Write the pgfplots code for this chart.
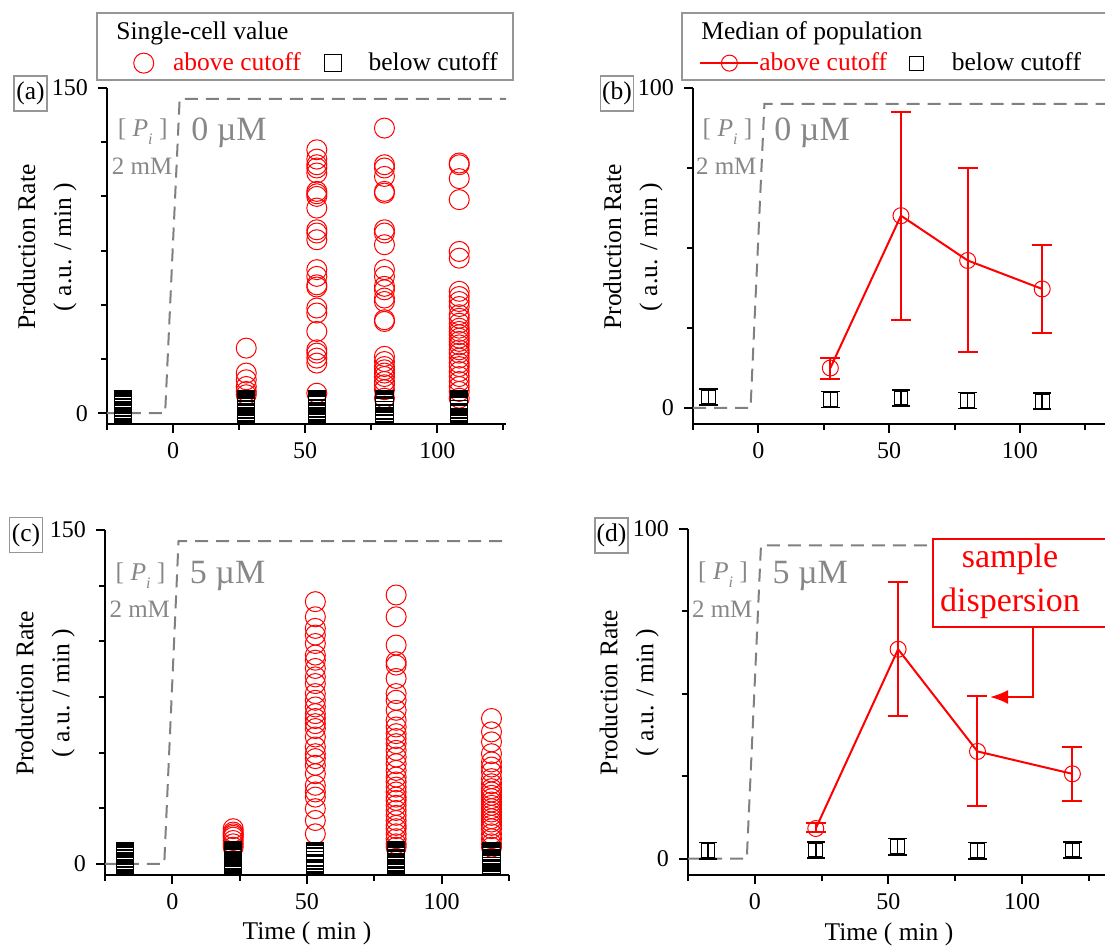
\documentclass[border=0pt]{standalone}
\usepackage{pgfplots}
\pgfplotsset{compat=1.18}
\usepackage{fontspec}
\setmainfont{Liberation Serif}
\usetikzlibrary{arrows.meta}
\definecolor{ggray}{RGB}{128,128,128}
\definecolor{tgray}{RGB}{135,135,135}
\definecolor{bgray}{RGB}{150,150,150}
\newcommand{\fs}{\fontsize{12.75}{18}\selectfont}
\newcommand{\fb}{\fontsize{17}{20}\selectfont}
\newcommand{\PiConc}{[ \textit{P}\raisebox{-0.7ex}{\fontsize{8}{8}\selectfont\textit{i}} ]}

\pgfplotsset{
  panel/.style={
    scale only axis,
    axis x line*=bottom, axis y line*=left,
    axis line style={line width=1pt},
    every tick/.style={line width=1pt, black},
    tick align=outside,
    major tick length=4.5pt, minor tick length=3pt,
    xmin=-25, ymin=-5,
    xtick={0,50,100}, minor xtick={-25,25,75,125},
    tick label style={font=\fontsize{12}{14}\selectfont},
    yticklabel style={xshift=-1.5pt},
    xticklabel style={yshift=-1pt},
    /pgf/number format/assume math mode=true,
    clip=false,
    ylabel={\fs Production Rate\\\fs ( a.u. / min )},
    ylabel style={font=\fs, align=center, inner sep=0pt, anchor=south},
    legend style={draw=none, fill=none, inner sep=0pt, column sep=0pt,
      nodes={inner sep=0pt}, font=\fs},
    legend columns=2,
  },
  redc/.style={only marks, mark=o, mark size=5pt, red, mark options={line width=0.5pt}},
  blks/.style={only marks, mark=square, mark size=4.3pt, black, mark options={line width=0.5pt}},
  pidash/.style={ggray, line width=1pt, dash pattern=on 6.5pt off 4pt},
  legcirc/.style={legend image code/.code={\draw[##1] plot coordinates {(0pt,0pt)}; \path (-6pt,0pt) (14.5pt,0pt);}},
  legsq/.style={legend image code/.code={\draw[##1] plot coordinates {(0pt,0pt)}; \path (-5pt,0pt) (17.5pt,0pt);}},
  legline/.style={legend image code/.code={\draw[##1,mark repeat=2,mark phase=2] plot coordinates {(-14.5pt,0pt) (0pt,0pt) (14.5pt,0pt)};}},
  redline/.style={red, line width=1pt, mark=none,
    error bars/.cd, y dir=both, y explicit,
    error bar style={line width=1pt, red},
    error mark options={rotate=90, mark size=5pt, line width=1pt, red}},
  redmk/.style={only marks, red, mark=o, mark size=4pt, mark options={fill=white, line width=0.5pt}},
  blkerr/.style={only marks, black, mark=square, mark size=3.4pt, mark options={line width=0.5pt},
    error bars/.cd, y dir=both, y explicit,
    error bar style={line width=0.8pt, black},
    error mark options={rotate=90, mark size=4.6pt, line width=0.8pt, black}},
}

\begin{document}
\begin{tikzpicture}
\useasboundingbox (0,0) rectangle (552.5pt,-473pt);

% ---------------- (a) ----------------
\begin{axis}[panel, at={(53.5pt,-212pt)}, anchor=south west,
  width=199.5pt, height=168pt, xmax=126, ymax=150,
  ytick={0,150}, minor ytick={25,50,75,100,125},
  ylabel style={at={(axis description cs:-0.075,0.527)}},
  legend style={at={(axis description cs:0.060,1.074)}, anchor=west},
  /tikz/every even column/.append style={column sep=11pt}]
\addlegendimage{redc, legcirc}
\addlegendentry{\textcolor{red}{above cutoff}}
\addlegendimage{blks, legsq}
\addlegendentry{below cutoff}
\addplot[forget plot, pidash] coordinates {(-25,0) (-3,0) (2.5,145) (126,145)};
\addplot[forget plot, redc] coordinates {
(27.7,30) (27.7,18.5) (27.7,15.4) (27.7,12.3) (27.7,10) (27.7,8.5)
(54.4,121.5) (54.4,117.2) (54.4,114.6) (54.4,113.1) (54.4,110.8) (54.4,102.3) (54.4,101.2) (54.4,100)
(54.4,94.6) (54.4,84.6) (54.4,83.1) (54.4,80) (54.4,66.2) (54.4,63.1) (54.4,59.2) (54.4,58.2)
(54.4,48.5) (54.4,46.2) (54.4,37.7) (54.4,29.2) (54.4,27.7) (54.4,25.4) (54.4,23.1) (54.4,9.2)
(80,131.5) (80,114.6) (80,113.1) (80,109.2) (80,102.3) (80,101.5) (80,84.6) (80,83.1) (80,77.7)
(80,66.2) (80,63.1) (80,58.5) (80,56.9) (80,53.1) (80,51.5) (80,43.1) (80,42.3) (80,26.2) (80,23.8)
(80,21.5) (80,20) (80,18.5) (80,16.9) (80,14.6) (80,13.1) (80,10.8) (80,6.9)
(108.3,115.4) (108.3,114.6) (108.3,108.2) (108.3,98.5) (108.3,74.6) (108.3,71.5) (108.3,56.2)
(108.3,53.8) (108.3,51.5) (108.3,49.2) (108.3,45.4) (108.3,43.8) (108.3,41.5) (108.3,39.2)
(108.3,37.7) (108.3,36.2) (108.3,34.6) (108.3,33.1) (108.3,31.5) (108.3,29.2) (108.3,27.7)
(108.3,25.4) (108.3,23.1) (108.3,21.5) (108.3,19.2) (108.3,16.9) (108.3,14.6) (108.3,12.3)
(108.3,10) (108.3,6.9)
};
\addplot[forget plot, blks] coordinates {
(-19,-0.5) (-19,-0.1) (-19,0.3) (-19,0.7) (-19,1.1) (-19,1.5) (-19,2.5) (-19,3.0) (-19,3.9) (-19,4.3)
(-19,4.7) (-19,5.1) (-19,5.5) (-19,5.9) (-19,6.3) (-19,6.7)
(27.7,-0.6) (27.7,-0.2) (27.7,0.2) (27.7,0.6) (27.7,1.6) (27.7,2.0) (27.7,3.0) (27.7,3.4) (27.7,3.8)
(27.7,4.2) (27.7,4.6) (27.7,5.0) (27.7,5.4) (27.7,5.8) (27.7,6.2) (27.7,6.5)
(54.4,-0.5) (54.4,-0.1) (54.4,0.3) (54.4,0.7) (54.4,1.1) (54.4,2.1) (54.4,2.5) (54.4,3.5) (54.4,3.9)
(54.4,4.3) (54.4,4.7) (54.4,5.1) (54.4,5.5) (54.4,5.9) (54.4,6.3) (54.4,6.6)
(80,-0.6) (80,-0.2) (80,0.2) (80,1.2) (80,1.6) (80,2.7) (80,3.1) (80,3.5) (80,4.5) (80,4.9)
(80,5.3) (80,5.7) (80,6.1) (80,6.4)
(108.3,-0.5) (108.3,-0.1) (108.3,0.3) (108.3,0.7) (108.3,1.7) (108.3,2.1) (108.3,3.1) (108.3,3.5)
(108.3,3.9) (108.3,4.3) (108.3,4.7) (108.3,5.1) (108.3,5.5) (108.3,5.9) (108.3,6.3)
};
\node[tgray, font=\fs, anchor=base] at (axis cs:-11.5,127.6) {\PiConc};
\node[tgray, font=\fontsize{12.5}{15}\selectfont, anchor=base] at (axis cs:-11.7,110) {2 mM};
\node[tgray, font=\fb, anchor=base west, inner sep=0pt] at (axis cs:6.8,125.8) {0 µM};
\end{axis}

% ---------------- (b) ----------------
\begin{axis}[panel, at={(346.5pt,-212pt)}, anchor=south west,
  width=206pt, height=168pt, xmax=132.5, ymax=100,
  ytick={0,100}, minor ytick={25,50,75},
  ylabel style={at={(axis description cs:-0.073,0.527)}},
  legend style={at={(axis description cs:0.0146,1.074)}, anchor=west},
  /tikz/every even column/.append style={column sep=9.5pt}]
\addlegendimage{red, line width=1pt, mark=o, mark size=4pt, mark options={fill=white, line width=0.5pt, solid}, legline}
\addlegendentry{\textcolor{red}{above cutoff}}
\addlegendimage{only marks, black, mark=square, mark size=3.5pt, mark options={line width=0.5pt}, legsq}
\addlegendentry{below cutoff}
\addplot[forget plot, pidash] coordinates {(-25,0) (-3,0) (2.3,95) (132.5,95)};
\addplot[forget plot, blkerr] coordinates {
(-19,3.4) +- (0,2.5) (27.5,2.6) +- (0,2.5) (54.5,3.1) +- (0,2.5) (80,2.3) +- (0,2.5) (108.5,2.1) +- (0,2.5)};
\addplot[forget plot, redline] coordinates {
(27.5,12.5) += (0,3.1) -= (0,3.4)
(54.5,60.1) += (0,32.4) -= (0,32.5)
(80,46.1) += (0,28.8) -= (0,28.7)
(108.5,37.2) += (0,13.7) -= (0,13.8)};
\addplot[forget plot, redmk] coordinates {(27.5,12.5) (54.5,60.1) (80,46.1) (108.5,37.2)};
\node[tgray, font=\fs, anchor=base] at (axis cs:-11.8,84.9) {\PiConc};
\node[tgray, font=\fontsize{12.5}{15}\selectfont, anchor=base] at (axis cs:-12.3,72.9) {2 mM};
\node[tgray, font=\fb, anchor=base west, inner sep=0pt] at (axis cs:6.0,83.6) {0 µM};
\end{axis}

% ---------------- (c) ----------------
\begin{axis}[panel, at={(52.5pt,-437.5pt)}, anchor=south west,
  width=202pt, height=172.5pt, xmax=125, ymax=150,
  ytick={0,150}, minor ytick={25,50,75,100,125},
  ylabel style={at={(axis description cs:-0.074,0.527)}},
  xlabel={Time ( min )},
  xlabel style={font=\fs, at={(axis description cs:0.5,-0.1884)}, anchor=base, inner sep=0pt}]
\addplot[pidash] coordinates {(-25,0) (-3,0) (2.3,145) (125,145)};
\addplot[redc] coordinates {
(22.6,15.8) (22.6,14.3) (22.6,13.5) (22.6,12.8) (22.6,12) (22.6,10.5) (22.6,9) (22.6,7.5)
(53.1,117.8) (53.1,111) (53.1,105.8) (53.1,102.8) (53.1,99) (53.1,93.8) (53.1,91.5) (53.1,87.8)
(53.1,84) (53.1,81) (53.1,76.5) (53.1,73.5) (53.1,70.5) (53.1,67.5) (53.1,65.3) (53.1,63)
(53.1,60.8) (53.1,57) (53.1,52.5) (53.1,49.5) (53.1,47.3) (53.1,44.3) (53.1,40.5) (53.1,35.3)
(53.1,32.3) (53.1,30) (53.1,24.8) (53.1,19.5) (53.1,13.5)
(83.1,120.8) (83.1,111) (83.1,98.3) (83.1,90.8) (83.1,89.3) (83.1,83.3) (83.1,76.5) (83.1,73.5)
(83.1,69) (83.1,64.5) (83.1,61.5) (83.1,58.5) (83.1,56.3) (83.1,54) (83.1,51) (83.1,48) (83.1,45)
(83.1,42) (83.1,39) (83.1,36.8) (83.1,34.5) (83.1,32.3) (83.1,30) (83.1,28.5) (83.1,26.3) (83.1,24)
(83.1,21.8) (83.1,19.5) (83.1,17.3) (83.1,15.8) (83.1,13.5) (83.1,11.3) (83.1,9) (83.1,7.5)
(118.5,65.3) (118.5,59.3) (118.5,54.8) (118.5,49.5) (118.5,45.8) (118.5,43.5) (118.5,41.3)
(118.5,38.3) (118.5,36) (118.5,33.8) (118.5,32.3) (118.5,30.8) (118.5,29.3) (118.5,27.8)
(118.5,26.3) (118.5,24.8) (118.5,23.3) (118.5,21.8) (118.5,20.3) (118.5,18.8) (118.5,17.3)
(118.5,15.8) (118.5,13.5) (118.5,11.3) (118.5,9) (118.5,7.5)
};
\addplot[blks] coordinates {
(-17.5,-0.8) (-17.5,-0.4) (-17.5,0.0) (-17.5,0.4) (-17.5,0.8) (-17.5,1.2) (-17.5,2.2) (-17.5,2.6) (-17.5,3.6)
(-17.5,4.0) (-17.5,4.4) (-17.5,4.8) (-17.5,5.2) (-17.5,5.6) (-17.5,5.9)
(22.6,-0.8) (22.6,-0.4) (22.6,0.0) (22.6,0.4) (22.6,0.8) (22.6,1.2) (22.6,1.6) (22.6,2.6) (22.6,3.0)
(22.6,3.4) (22.6,3.8) (22.6,4.2) (22.6,4.6) (22.6,5.0) (22.6,5.4) (22.6,5.8) (22.6,6.1)
(53.1,-0.7) (53.1,-0.3) (53.1,0.1) (53.1,0.5) (53.1,1.5) (53.1,1.9) (53.1,2.9) (53.1,3.3) (53.1,4.3)
(53.1,4.7) (53.1,5.1) (53.1,5.5) (53.1,5.8)
(83.1,-0.8) (83.1,-0.4) (83.1,0.0) (83.1,0.4) (83.1,0.8) (83.1,1.8) (83.1,2.2) (83.1,2.6) (83.1,3.6)
(83.1,4.0) (83.1,4.4) (83.1,4.8) (83.1,5.2) (83.1,5.6) (83.1,6.0)
(118.5,-0.8) (118.5,-0.3) (118.5,0.3) (118.5,0.8) (118.5,1.2) (118.5,1.8) (118.5,2.3) (118.5,2.7)
(118.5,3.3) (118.5,3.8) (118.5,4.2) (118.5,4.8) (118.5,5.2) (118.5,5.6) (118.5,5.9)
};
\node[tgray, font=\fs, anchor=base] at (axis cs:-11.8,127.3) {\PiConc};
\node[tgray, font=\fontsize{12.5}{15}\selectfont, anchor=base] at (axis cs:-12.1,110.5) {2 mM};
\node[tgray, font=\fb, anchor=base west, inner sep=0pt] at (axis cs:6.4,125.8) {5 µM};
\end{axis}

% ---------------- (d) ----------------
\begin{axis}[panel, at={(344pt,-437.5pt)}, anchor=south west,
  width=208.5pt, height=173pt, xmax=131, ymax=100,
  ytick={0,100}, minor ytick={25,50,75},
  ylabel style={at={(axis description cs:-0.069,0.527)}},
  xlabel={Time ( min )},
  xlabel style={font=\fs, at={(axis description cs:0.482,-0.188)}, anchor=base, inner sep=0pt}]
\addplot[pidash] coordinates {(-25,0) (-3,0) (2.3,95) (131,95)};
\addplot[blkerr] coordinates {
(-17.5,2.4) +- (0,2.5) (22.8,2.6) +- (0,2.5) (53.4,3.6) +- (0,2.5) (83.3,2.4) +- (0,2.5) (118.8,2.6) +- (0,2.5)};
\addplot[redline] coordinates {
(22.8,9.1) += (0,1.8) -= (0,1.1)
(53.6,63.5) += (0,20.5) -= (0,20.3)
(83.3,32.5) += (0,16.7) -= (0,16.5)
(118.8,25.7) += (0,8.2) -= (0,8.1)};
\addplot[redmk] coordinates {(22.8,9.1) (53.6,63.5) (83.3,32.5) (118.8,25.7)};
\node[tgray, font=\fs, anchor=base] at (axis cs:-11.9,84.6) {\PiConc};
\node[tgray, font=\fontsize{12.5}{15}\selectfont, anchor=base] at (axis cs:-12.2,73.2) {2 mM};
\node[tgray, font=\fb, anchor=base west, inner sep=0pt] at (axis cs:6.5,83.6) {5 µM};
\end{axis}

% legend frames and titles
\draw[bgray, line width=0.6pt] (48.5pt,-6.5pt) rectangle (256.5pt,-40pt);
\node[font=\fs, anchor=base west, inner sep=0pt] at (58pt,-19.7pt) {Single-cell value};
\draw[bgray, line width=0.6pt] (341pt,-6.5pt) rectangle (570pt,-40pt);
\node[font=\fs, anchor=base west, inner sep=0pt] at (350.5pt,-19.7pt) {Median of population};

% panel labels
\node[draw=bgray, line width=0.6pt, font=\fs, minimum width=16.5pt, minimum height=17.5pt, inner sep=0pt] at (15.25pt,-46.75pt) {(a)};
\node[draw=bgray, line width=0.6pt, font=\fs, minimum width=16.5pt, minimum height=17.5pt, inner sep=0pt] at (308.5pt,-46.75pt) {(b)};
\node[draw=bgray, line width=0.6pt, font=\fs, minimum width=16.5pt, minimum height=17.5pt, inner sep=0pt] at (13pt,-267.5pt) {(c)};
\node[draw=bgray, line width=0.6pt, font=\fs, minimum width=16.5pt, minimum height=17.5pt, inner sep=0pt] at (305.75pt,-267.75pt) {(d)};

% callout
\draw[red, line width=1pt, fill=white] (466.5pt,-269.5pt) rectangle (560pt,-313.5pt);
\node[red, font=\fb, anchor=base, inner sep=0pt] at (505pt,-284pt) {sample};
\node[red, font=\fb, anchor=base, inner sep=0pt] at (505pt,-306pt) {dispersion};
\draw[red, line width=1pt, -{Latex[length=9pt,width=7pt]}] (516.5pt,-313.5pt) -- (516.5pt,-348.5pt) -- (495pt,-348.5pt);
\end{tikzpicture}
\end{document}
